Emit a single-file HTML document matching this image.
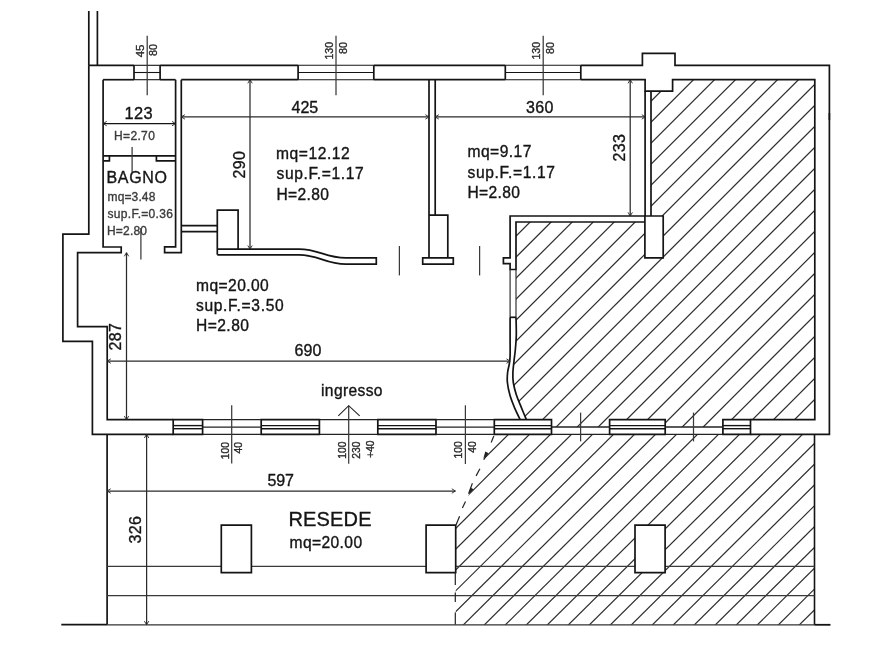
<!DOCTYPE html>
<html><head><meta charset="utf-8"><title>Planimetria</title>
<style>
html,body{margin:0;padding:0;background:#fff;}
body{width:893px;height:670px;overflow:hidden;}
svg{display:block;font-family:"Liberation Sans",sans-serif;filter:blur(0.35px);}
text{stroke-width:0.35px;paint-order:stroke;}
</style></head><body>
<svg width="893" height="670" viewBox="0 0 893 670">
<rect width="893" height="670" fill="#fff"/>
<defs>
<clipPath id="cu"><path d="M651.1,91.1 L672.6,91.1 L672.6,79.7 L814.8,79.7 L814.8,419.7 L722.9,419.7 L722.9,427 L665.2,427 L665.2,419.7 L609.6,419.7 L609.6,427 L551.5,427 L551.5,419.7 L526.40,419.70 C525.57,417.68 523.07,411.70 521.40,407.60 C519.73,403.50 517.75,399.28 516.40,395.10 C515.05,390.92 513.88,386.23 513.30,382.50 C512.72,378.77 512.77,376.42 512.90,372.70 C513.03,368.98 513.70,363.98 514.10,360.20 C514.50,356.42 514.93,354.20 515.30,350.00 C515.67,345.80 516.18,340.45 516.30,335.00 C516.42,329.55 516.05,320.25 516.00,317.30  L516,222 L644.9,222 L644.9,257.9 L663.2,257.9 L663.2,216 L651.1,216 Z"/></clipPath>
<clipPath id="cl"><path d="M493.8,434.4 L814.5,434.4 L814.5,624.8 L455.7,624.8 L455.7,525.3 C 466,500 484,462 493.8,434.4 Z M635,525.1 L635,572.7 L665.1,572.7 L665.1,525.1 Z" clip-rule="evenodd"/></clipPath>
</defs>
<g clip-path="url(#cu)" stroke="#2c2c2c" stroke-width="1.2">
<line x1="647.20" y1="0" x2="-52.80" y2="700"/>
<line x1="668.20" y1="0" x2="-31.80" y2="700"/>
<line x1="689.20" y1="0" x2="-10.80" y2="700"/>
<line x1="710.20" y1="0" x2="10.20" y2="700"/>
<line x1="731.20" y1="0" x2="31.20" y2="700"/>
<line x1="752.20" y1="0" x2="52.20" y2="700"/>
<line x1="773.20" y1="0" x2="73.20" y2="700"/>
<line x1="794.20" y1="0" x2="94.20" y2="700"/>
<line x1="815.20" y1="0" x2="115.20" y2="700"/>
<line x1="836.20" y1="0" x2="136.20" y2="700"/>
<line x1="857.20" y1="0" x2="157.20" y2="700"/>
<line x1="878.20" y1="0" x2="178.20" y2="700"/>
<line x1="899.20" y1="0" x2="199.20" y2="700"/>
<line x1="920.20" y1="0" x2="220.20" y2="700"/>
<line x1="941.20" y1="0" x2="241.20" y2="700"/>
<line x1="962.20" y1="0" x2="262.20" y2="700"/>
<line x1="983.20" y1="0" x2="283.20" y2="700"/>
<line x1="1004.20" y1="0" x2="304.20" y2="700"/>
<line x1="1025.20" y1="0" x2="325.20" y2="700"/>
<line x1="1046.20" y1="0" x2="346.20" y2="700"/>
<line x1="1067.20" y1="0" x2="367.20" y2="700"/>
<line x1="1088.20" y1="0" x2="388.20" y2="700"/>
<line x1="1109.20" y1="0" x2="409.20" y2="700"/>
<line x1="1130.20" y1="0" x2="430.20" y2="700"/>
<line x1="1151.20" y1="0" x2="451.20" y2="700"/>
<line x1="1172.20" y1="0" x2="472.20" y2="700"/>
<line x1="1193.20" y1="0" x2="493.20" y2="700"/>
<line x1="1214.20" y1="0" x2="514.20" y2="700"/>
<line x1="1235.20" y1="0" x2="535.20" y2="700"/>
<line x1="1256.20" y1="0" x2="556.20" y2="700"/>
<line x1="1277.20" y1="0" x2="577.20" y2="700"/>
<line x1="1298.20" y1="0" x2="598.20" y2="700"/>
<line x1="1319.20" y1="0" x2="619.20" y2="700"/>
<line x1="1340.20" y1="0" x2="640.20" y2="700"/>
<line x1="1361.20" y1="0" x2="661.20" y2="700"/>
<line x1="1382.20" y1="0" x2="682.20" y2="700"/>
<line x1="1403.20" y1="0" x2="703.20" y2="700"/>
<line x1="1424.20" y1="0" x2="724.20" y2="700"/>
<line x1="1445.20" y1="0" x2="745.20" y2="700"/>
<line x1="1466.20" y1="0" x2="766.20" y2="700"/>
<line x1="1487.20" y1="0" x2="787.20" y2="700"/>
<line x1="1508.20" y1="0" x2="808.20" y2="700"/>
</g>
<g clip-path="url(#cl)" stroke="#2c2c2c" stroke-width="1.2">
<line x1="652.59" y1="0" x2="-53.43" y2="700"/>
<line x1="673.59" y1="0" x2="-32.43" y2="700"/>
<line x1="694.59" y1="0" x2="-11.43" y2="700"/>
<line x1="715.59" y1="0" x2="9.57" y2="700"/>
<line x1="736.59" y1="0" x2="30.57" y2="700"/>
<line x1="757.59" y1="0" x2="51.57" y2="700"/>
<line x1="778.59" y1="0" x2="72.57" y2="700"/>
<line x1="799.59" y1="0" x2="93.57" y2="700"/>
<line x1="820.59" y1="0" x2="114.57" y2="700"/>
<line x1="841.59" y1="0" x2="135.57" y2="700"/>
<line x1="862.59" y1="0" x2="156.57" y2="700"/>
<line x1="883.59" y1="0" x2="177.57" y2="700"/>
<line x1="904.59" y1="0" x2="198.57" y2="700"/>
<line x1="925.59" y1="0" x2="219.57" y2="700"/>
<line x1="946.59" y1="0" x2="240.57" y2="700"/>
<line x1="967.59" y1="0" x2="261.57" y2="700"/>
<line x1="988.59" y1="0" x2="282.57" y2="700"/>
<line x1="1009.59" y1="0" x2="303.57" y2="700"/>
<line x1="1030.59" y1="0" x2="324.57" y2="700"/>
<line x1="1051.59" y1="0" x2="345.57" y2="700"/>
<line x1="1072.59" y1="0" x2="366.57" y2="700"/>
<line x1="1093.59" y1="0" x2="387.57" y2="700"/>
<line x1="1114.59" y1="0" x2="408.57" y2="700"/>
<line x1="1135.59" y1="0" x2="429.57" y2="700"/>
<line x1="1156.59" y1="0" x2="450.57" y2="700"/>
<line x1="1177.59" y1="0" x2="471.57" y2="700"/>
<line x1="1198.59" y1="0" x2="492.57" y2="700"/>
<line x1="1219.59" y1="0" x2="513.57" y2="700"/>
<line x1="1240.59" y1="0" x2="534.57" y2="700"/>
<line x1="1261.59" y1="0" x2="555.57" y2="700"/>
<line x1="1282.59" y1="0" x2="576.57" y2="700"/>
<line x1="1303.59" y1="0" x2="597.57" y2="700"/>
<line x1="1324.59" y1="0" x2="618.57" y2="700"/>
<line x1="1345.59" y1="0" x2="639.57" y2="700"/>
<line x1="1366.59" y1="0" x2="660.57" y2="700"/>
<line x1="1387.59" y1="0" x2="681.57" y2="700"/>
<line x1="1408.59" y1="0" x2="702.57" y2="700"/>
<line x1="1429.59" y1="0" x2="723.57" y2="700"/>
<line x1="1450.59" y1="0" x2="744.57" y2="700"/>
<line x1="1471.59" y1="0" x2="765.57" y2="700"/>
<line x1="1492.59" y1="0" x2="786.57" y2="700"/>
<line x1="1513.59" y1="0" x2="807.57" y2="700"/>
</g>
<line x1="88.8" y1="11" x2="88.8" y2="65.3" stroke="#141414" stroke-width="1.7" />
<line x1="97.4" y1="11" x2="97.4" y2="65.3" stroke="#141414" stroke-width="1.7" />
<polyline points="88.8,65.3 88.8,234.1 62.9,234.1 62.9,341.3 92.4,341.3 92.4,434.4 173.2,434.4" fill="none" stroke="#141414" stroke-width="1.7" stroke-linejoin="miter" />
<polyline points="88.8,65.3 134,65.3" fill="none" stroke="#141414" stroke-width="1.7" stroke-linejoin="miter" />
<polyline points="160.1,65.3 298.1,65.3" fill="none" stroke="#141414" stroke-width="1.7" stroke-linejoin="miter" />
<polyline points="373.8,65.3 505.3,65.3" fill="none" stroke="#141414" stroke-width="1.7" stroke-linejoin="miter" />
<polyline points="580.8,65.3 642.4,65.3 642.4,53.3 675,53.3 675,65.3 829.4,65.3 829.4,434.4 750.5,434.4" fill="none" stroke="#141414" stroke-width="1.7" stroke-linejoin="miter" />
<polyline points="103.1,79.7 134,79.7" fill="none" stroke="#141414" stroke-width="1.7" stroke-linejoin="miter" />
<polyline points="160.1,79.7 175.6,79.7" fill="none" stroke="#141414" stroke-width="1.7" stroke-linejoin="miter" />
<polyline points="181.3,79.7 298.1,79.7" fill="none" stroke="#141414" stroke-width="1.7" stroke-linejoin="miter" />
<polyline points="373.8,79.7 505.3,79.7" fill="none" stroke="#141414" stroke-width="1.7" stroke-linejoin="miter" />
<polyline points="580.8,79.7 645.1,79.7 645.1,91.1 672.6,91.1 672.6,79.7 814.8,79.7 814.8,419.7 750.5,419.7" fill="none" stroke="#141414" stroke-width="1.7" stroke-linejoin="miter" />
<line x1="134" y1="65.3" x2="134" y2="79.7" stroke="#141414" stroke-width="1.7" />
<line x1="160.1" y1="65.3" x2="160.1" y2="79.7" stroke="#141414" stroke-width="1.7" />
<line x1="134" y1="65.3" x2="160.1" y2="65.3" stroke="#141414" stroke-width="1.1" />
<line x1="134" y1="79.7" x2="160.1" y2="79.7" stroke="#141414" stroke-width="1.1" />
<line x1="134" y1="72.5" x2="160.1" y2="72.5" stroke="#141414" stroke-width="1.1" />
<line x1="298.1" y1="65.3" x2="298.1" y2="79.7" stroke="#141414" stroke-width="1.7" />
<line x1="373.8" y1="65.3" x2="373.8" y2="79.7" stroke="#141414" stroke-width="1.7" />
<line x1="298.1" y1="65.3" x2="373.8" y2="65.3" stroke="#141414" stroke-width="1.1" />
<line x1="298.1" y1="79.7" x2="373.8" y2="79.7" stroke="#141414" stroke-width="1.1" />
<line x1="298.1" y1="72.5" x2="373.8" y2="72.5" stroke="#141414" stroke-width="1.1" />
<line x1="505.3" y1="65.3" x2="505.3" y2="79.7" stroke="#141414" stroke-width="1.7" />
<line x1="580.8" y1="65.3" x2="580.8" y2="79.7" stroke="#141414" stroke-width="1.7" />
<line x1="505.3" y1="65.3" x2="580.8" y2="65.3" stroke="#141414" stroke-width="1.1" />
<line x1="505.3" y1="79.7" x2="580.8" y2="79.7" stroke="#141414" stroke-width="1.1" />
<line x1="505.3" y1="72.5" x2="580.8" y2="72.5" stroke="#141414" stroke-width="1.1" />
<polyline points="103.1,79.7 103.1,247 121.2,247 121.2,252.7 77.6,252.7 77.6,326.6 107.2,326.6 107.2,419.7 173.2,419.7" fill="none" stroke="#141414" stroke-width="1.7" stroke-linejoin="miter" />
<polyline points="175.6,79.7 175.6,246.8 164.6,246.8 164.6,252.7 181.3,252.7 181.3,79.7" fill="none" stroke="#141414" stroke-width="1.7" stroke-linejoin="miter" />
<line x1="103.1" y1="155.8" x2="175.6" y2="155.8" stroke="#141414" stroke-width="1.7" />
<polyline points="103.1,160.9 109.4,160.9 109.4,155.8" fill="none" stroke="#141414" stroke-width="1.7" stroke-linejoin="miter" />
<polyline points="175.6,160.9 156.4,160.9 156.4,155.8" fill="none" stroke="#141414" stroke-width="1.7" stroke-linejoin="miter" />
<line x1="132.1" y1="147" x2="132.1" y2="172.6" stroke="#3a3a3a" stroke-width="1.25" />
<line x1="140.9" y1="228" x2="140.9" y2="259.6" stroke="#3a3a3a" stroke-width="1.25" />
<line x1="181.3" y1="225.6" x2="217.3" y2="225.6" stroke="#141414" stroke-width="1.7" />
<line x1="181.3" y1="231.7" x2="217.3" y2="231.7" stroke="#141414" stroke-width="1.7" />
<polyline points="217.3,254.8 217.3,210.2 238.1,210.2 238.1,249.1" fill="none" stroke="#141414" stroke-width="1.7" stroke-linejoin="miter" />
<path d="M217.3,249.1 L299,249.1 C 319,249.1 325,257.9 346,257.9 L376.3,257.9 L376.3,264.1 L346,264.1 C 325,264.1 319,254.8 299,254.8 L217.3,254.8" fill="none" stroke="#141414" stroke-width="1.7" />
<line x1="399.4" y1="246" x2="399.4" y2="275.4" stroke="#3a3a3a" stroke-width="1.25" />
<line x1="479.6" y1="246" x2="479.6" y2="275.4" stroke="#3a3a3a" stroke-width="1.25" />
<line x1="429" y1="79.7" x2="429" y2="257.9" stroke="#141414" stroke-width="1.7" />
<line x1="435.2" y1="79.7" x2="435.2" y2="215.2" stroke="#141414" stroke-width="1.7" />
<polyline points="429,215.2 447.8,215.2 447.8,257.9" fill="none" stroke="#141414" stroke-width="1.7" stroke-linejoin="miter" />
<polygon points="422.7,257.9 453.3,257.9 453.3,264.1 422.7,264.1" fill="none" stroke="#141414" stroke-width="1.7" stroke-linejoin="miter" />
<line x1="645.1" y1="91.1" x2="645.1" y2="216" stroke="#141414" stroke-width="1.7" />
<line x1="651.0" y1="91.1" x2="651.0" y2="216" stroke="#141414" stroke-width="1.7" />
<polyline points="644.9,216 510.1,216 510.1,257.9 503.4,257.9 503.4,263.6 510.1,263.6 510.1,269.5 516,269.5 516,222 644.9,222" fill="none" stroke="#141414" stroke-width="1.7" stroke-linejoin="miter" />
<polygon points="644.9,216 663.2,216 663.2,257.9 644.9,257.9" fill="#fff" stroke="#141414" stroke-width="1.7" stroke-linejoin="miter" />
<line x1="510.1" y1="269.5" x2="510.1" y2="317.3" stroke="#333" stroke-width="1.2" />
<line x1="516" y1="269.5" x2="516" y2="317.3" stroke="#333" stroke-width="1.2" />
<line x1="510.1" y1="317.3" x2="516" y2="317.3" stroke="#141414" stroke-width="1.7" />
<path d="M510.10,317.30 C510.10,321.08 510.10,333.55 510.10,340.00 C510.10,346.45 510.23,352.00 510.10,356.00 C509.97,360.00 509.72,361.25 509.30,364.00 C508.88,366.75 507.92,369.42 507.60,372.50 C507.28,375.58 507.02,378.73 507.40,382.50 C507.78,386.27 508.72,390.92 509.90,395.10 C511.08,399.28 512.78,403.50 514.50,407.60 C516.22,411.70 519.25,417.68 520.20,419.70 " fill="none" stroke="#141414" stroke-width="1.7" />
<path d="M516.00,317.30 C516.05,320.25 516.42,329.55 516.30,335.00 C516.18,340.45 515.67,345.80 515.30,350.00 C514.93,354.20 514.50,356.42 514.10,360.20 C513.70,363.98 513.03,368.98 512.90,372.70 C512.77,376.42 512.72,378.77 513.30,382.50 C513.88,386.23 515.05,390.92 516.40,395.10 C517.75,399.28 519.73,403.50 521.40,407.60 C523.07,411.70 525.57,417.68 526.40,419.70 " fill="none" stroke="#141414" stroke-width="1.7" />
<polygon points="173.2,419.7 202.6,419.7 202.6,434.4 173.2,434.4" fill="#fff" stroke="#141414" stroke-width="1.7" stroke-linejoin="miter" />
<line x1="173.2" y1="425.6" x2="202.6" y2="425.6" stroke="#141414" stroke-width="1.4" />
<line x1="173.2" y1="428.7" x2="202.6" y2="428.7" stroke="#141414" stroke-width="1.4" />
<polygon points="261.2,419.7 319.4,419.7 319.4,434.4 261.2,434.4" fill="#fff" stroke="#141414" stroke-width="1.7" stroke-linejoin="miter" />
<line x1="261.2" y1="425.6" x2="319.4" y2="425.6" stroke="#141414" stroke-width="1.4" />
<line x1="261.2" y1="428.7" x2="319.4" y2="428.7" stroke="#141414" stroke-width="1.4" />
<polygon points="377.8,419.7 436,419.7 436,434.4 377.8,434.4" fill="#fff" stroke="#141414" stroke-width="1.7" stroke-linejoin="miter" />
<line x1="377.8" y1="425.6" x2="436" y2="425.6" stroke="#141414" stroke-width="1.4" />
<line x1="377.8" y1="428.7" x2="436" y2="428.7" stroke="#141414" stroke-width="1.4" />
<polygon points="494.3,419.7 551.5,419.7 551.5,434.4 494.3,434.4" fill="#fff" stroke="#141414" stroke-width="1.7" stroke-linejoin="miter" />
<line x1="494.3" y1="425.6" x2="551.5" y2="425.6" stroke="#141414" stroke-width="1.4" />
<line x1="494.3" y1="428.7" x2="551.5" y2="428.7" stroke="#141414" stroke-width="1.4" />
<polygon points="609.6,419.7 665.2,419.7 665.2,434.4 609.6,434.4" fill="#fff" stroke="#141414" stroke-width="1.7" stroke-linejoin="miter" />
<line x1="609.6" y1="425.6" x2="665.2" y2="425.6" stroke="#141414" stroke-width="1.4" />
<line x1="609.6" y1="428.7" x2="665.2" y2="428.7" stroke="#141414" stroke-width="1.4" />
<polygon points="722.9,419.7 750.5,419.7 750.5,434.4 722.9,434.4" fill="#fff" stroke="#141414" stroke-width="1.7" stroke-linejoin="miter" />
<line x1="722.9" y1="425.6" x2="750.5" y2="425.6" stroke="#141414" stroke-width="1.4" />
<line x1="722.9" y1="428.7" x2="750.5" y2="428.7" stroke="#141414" stroke-width="1.4" />
<line x1="202.6" y1="419.7" x2="261.2" y2="419.7" stroke="#222" stroke-width="1.3" />
<line x1="202.6" y1="434.4" x2="261.2" y2="434.4" stroke="#222" stroke-width="1.2" />
<line x1="202.6" y1="427.1" x2="261.2" y2="427.1" stroke="#222" stroke-width="1.1" />
<line x1="319.4" y1="419.7" x2="377.8" y2="419.7" stroke="#222" stroke-width="1.3" />
<line x1="319.4" y1="434.4" x2="377.8" y2="434.4" stroke="#222" stroke-width="1.2" />
<line x1="436" y1="419.7" x2="494.3" y2="419.7" stroke="#222" stroke-width="1.3" />
<line x1="436" y1="434.4" x2="494.3" y2="434.4" stroke="#222" stroke-width="1.2" />
<line x1="436" y1="427.1" x2="494.3" y2="427.1" stroke="#222" stroke-width="1.1" />
<line x1="551.5" y1="434.4" x2="609.6" y2="434.4" stroke="#222" stroke-width="1.2" />
<line x1="551.5" y1="427.1" x2="609.6" y2="427.1" stroke="#222" stroke-width="1.5" />
<line x1="665.2" y1="434.4" x2="722.9" y2="434.4" stroke="#222" stroke-width="1.2" />
<line x1="665.2" y1="427.1" x2="722.9" y2="427.1" stroke="#222" stroke-width="1.5" />
<line x1="107.1" y1="434.4" x2="107.1" y2="624.7" stroke="#141414" stroke-width="1.7" />
<line x1="61.3" y1="624.7" x2="107.1" y2="624.7" stroke="#141414" stroke-width="1.7" />
<line x1="107.1" y1="624.8" x2="814.5" y2="624.8" stroke="#333" stroke-width="1.2" />
<line x1="814.5" y1="624.8" x2="830.5" y2="624.8" stroke="#141414" stroke-width="1.8" />
<line x1="814.5" y1="434.4" x2="814.5" y2="624.8" stroke="#141414" stroke-width="1.6" />
<line x1="107.1" y1="566.3" x2="814.5" y2="566.3" stroke="#3a3a3a" stroke-width="1.25" />
<line x1="107.1" y1="595.6" x2="814.5" y2="595.6" stroke="#3a3a3a" stroke-width="1.25" />
<polygon points="221.3,525.2 251.4,525.2 251.4,572.7 221.3,572.7" fill="#fff" stroke="#141414" stroke-width="1.7" stroke-linejoin="miter" />
<polygon points="426.1,525.2 455.7,525.2 455.7,572.7 426.1,572.7" fill="#fff" stroke="#141414" stroke-width="1.7" stroke-linejoin="miter" />
<polygon points="635,525.2 665.1,525.2 665.1,572.7 635,572.7" fill="#fff" stroke="#141414" stroke-width="1.7" stroke-linejoin="miter" />
<line x1="493.8" y1="436.0" x2="491.2" y2="442.5" stroke="#222" stroke-width="1.2" />
<line x1="487.4" y1="453.6" x2="483.7" y2="459.6" stroke="#222" stroke-width="1.2" />
<line x1="479.9" y1="468.8" x2="476.1" y2="475.9" stroke="#222" stroke-width="1.2" />
<line x1="472.4" y1="483.2" x2="468.6" y2="493.6" stroke="#222" stroke-width="1.2" />
<line x1="465.5" y1="501.4" x2="462.4" y2="507.9" stroke="#222" stroke-width="1.2" />
<line x1="459.6" y1="516.3" x2="456.0" y2="525.0" stroke="#222" stroke-width="1.2" />
<line x1="455.3" y1="572.6" x2="455.3" y2="585" stroke="#222" stroke-width="1.2" />
<line x1="455.3" y1="592.6" x2="455.3" y2="602" stroke="#222" stroke-width="1.2" />
<line x1="455.3" y1="612.6" x2="455.3" y2="624.6" stroke="#222" stroke-width="1.2" />
<path d="M483.4,458.2 L488.6,453.2 L485.3,451.6 Z" fill="#222"/>
<path d="M468.6,494.2 L473.6,489.2 L470.4,487.6 Z" fill="#222"/>
<line x1="103.1" y1="123.6" x2="175.6" y2="123.6" stroke="#141414" stroke-width="1.4" />
<path d="M106.7,121.4 L103.1,123.6 L106.7,125.8" fill="none" stroke="#222" stroke-width="0.9" />
<path d="M172.0,125.8 L175.6,123.6 L172.0,121.4" fill="none" stroke="#222" stroke-width="0.9" />
<line x1="181.3" y1="116.9" x2="429" y2="116.9" stroke="#2a2a2a" stroke-width="1.25" />
<path d="M184.9,114.7 L181.3,116.9 L184.9,119.1" fill="none" stroke="#222" stroke-width="0.9" />
<path d="M425.4,119.1 L429,116.9 L425.4,114.7" fill="none" stroke="#222" stroke-width="0.9" />
<line x1="435.2" y1="116.9" x2="645.4" y2="116.9" stroke="#2a2a2a" stroke-width="1.25" />
<path d="M438.8,114.7 L435.2,116.9 L438.8,119.1" fill="none" stroke="#222" stroke-width="0.9" />
<path d="M641.8,119.1 L645.4,116.9 L641.8,114.7" fill="none" stroke="#222" stroke-width="0.9" />
<line x1="250" y1="79.7" x2="250" y2="249.1" stroke="#2a2a2a" stroke-width="1.25" />
<path d="M252.2,83.3 L250,79.7 L247.8,83.3" fill="none" stroke="#222" stroke-width="0.9" />
<path d="M247.8,245.5 L250,249.1 L252.2,245.5" fill="none" stroke="#222" stroke-width="0.9" />
<line x1="630.2" y1="79.7" x2="630.2" y2="216" stroke="#2a2a2a" stroke-width="1.25" />
<path d="M632.4,83.3 L630.2,79.7 L628.0,83.3" fill="none" stroke="#222" stroke-width="0.9" />
<path d="M628.0,212.4 L630.2,216 L632.4,212.4" fill="none" stroke="#222" stroke-width="0.9" />
<line x1="126.5" y1="252.7" x2="126.5" y2="419.7" stroke="#2a2a2a" stroke-width="1.25" />
<path d="M128.7,256.3 L126.5,252.7 L124.3,256.3" fill="none" stroke="#222" stroke-width="0.9" />
<path d="M124.3,416.1 L126.5,419.7 L128.7,416.1" fill="none" stroke="#222" stroke-width="0.9" />
<line x1="107.2" y1="361.1" x2="510.1" y2="361.1" stroke="#2a2a2a" stroke-width="1.25" />
<path d="M110.8,358.9 L107.2,361.1 L110.8,363.3" fill="none" stroke="#222" stroke-width="0.9" />
<path d="M506.5,363.3 L510.1,361.1 L506.5,358.9" fill="none" stroke="#222" stroke-width="0.9" />
<line x1="107.1" y1="491" x2="455.4" y2="491" stroke="#2a2a2a" stroke-width="1.25" />
<path d="M110.7,488.8 L107.1,491 L110.7,493.2" fill="none" stroke="#222" stroke-width="0.9" />
<path d="M451.8,493.2 L455.4,491 L451.8,488.8" fill="none" stroke="#222" stroke-width="0.9" />
<line x1="146.6" y1="434.4" x2="146.6" y2="624.7" stroke="#2a2a2a" stroke-width="1.25" />
<path d="M148.8,438.0 L146.6,434.4 L144.4,438.0" fill="none" stroke="#222" stroke-width="0.9" />
<path d="M144.4,621.1 L146.6,624.7 L148.8,621.1" fill="none" stroke="#222" stroke-width="0.9" />
<line x1="829.4" y1="113" x2="829.4" y2="120" stroke="#141414" stroke-width="1.6" />
<line x1="147.2" y1="35.8" x2="147.2" y2="95.2" stroke="#3a3a3a" stroke-width="1.25" />
<line x1="336" y1="35.8" x2="336" y2="95.2" stroke="#3a3a3a" stroke-width="1.25" />
<line x1="543.2" y1="35.8" x2="543.2" y2="95.2" stroke="#3a3a3a" stroke-width="1.25" />
<line x1="231.7" y1="405.3" x2="231.7" y2="463.5" stroke="#3a3a3a" stroke-width="1.25" />
<line x1="348.7" y1="405.7" x2="348.7" y2="463.8" stroke="#3a3a3a" stroke-width="1.25" />
<line x1="465.4" y1="405.3" x2="465.4" y2="464" stroke="#3a3a3a" stroke-width="1.25" />
<line x1="580.6" y1="412.6" x2="580.6" y2="441.4" stroke="#3a3a3a" stroke-width="1.25" />
<line x1="693.5" y1="412.6" x2="693.5" y2="441.4" stroke="#3a3a3a" stroke-width="1.25" />
<path d="M338.3,415.8 L348.7,405.7 L359.7,415.8" fill="none" stroke="#222" stroke-width="1.1" />
<text transform="translate(139.6 44.5) rotate(-90)" font-size="11.5" fill="#2a2a2a" stroke="#2a2a2a" text-anchor="end" dy="0.36em">45</text>
<text transform="translate(153.3 43.9) rotate(-90)" font-size="10.8" fill="#2a2a2a" stroke="#2a2a2a" text-anchor="end" dy="0.36em">80</text>
<text transform="translate(328.8 41.9) rotate(-90)" font-size="10.6" fill="#2a2a2a" stroke="#2a2a2a" text-anchor="end" dy="0.36em">130</text>
<text transform="translate(343.1 41.9) rotate(-90)" font-size="10.8" fill="#2a2a2a" stroke="#2a2a2a" text-anchor="end" dy="0.36em">80</text>
<text transform="translate(535.8 41.9) rotate(-90)" font-size="10.6" fill="#2a2a2a" stroke="#2a2a2a" text-anchor="end" dy="0.36em">130</text>
<text transform="translate(550.2 41.9) rotate(-90)" font-size="10.8" fill="#2a2a2a" stroke="#2a2a2a" text-anchor="end" dy="0.36em">80</text>
<text x="276.0" y="159.0" font-size="15.6" fill="#141414" stroke="#141414" text-anchor="start" letter-spacing="0.571">mq=12.12</text>
<text x="276.5" y="179.3" font-size="15.6" fill="#141414" stroke="#141414" text-anchor="start" letter-spacing="0.620">sup.F.=1.17</text>
<text x="276.5" y="200.0" font-size="15.6" fill="#141414" stroke="#141414" text-anchor="start" letter-spacing="0.360">H=2.80</text>
<text x="467.5" y="157.3" font-size="15.6" fill="#141414" stroke="#141414" text-anchor="start" letter-spacing="0.467">mq=9.17</text>
<text x="467.5" y="177.6" font-size="15.6" fill="#141414" stroke="#141414" text-anchor="start" letter-spacing="0.640">sup.F.=1.17</text>
<text x="467.5" y="197.5" font-size="15.6" fill="#141414" stroke="#141414" text-anchor="start" letter-spacing="0.320">H=2.80</text>
<text x="196.0" y="290.6" font-size="15.6" fill="#141414" stroke="#141414" text-anchor="start" letter-spacing="0.429">mq=20.00</text>
<text x="196.0" y="311.4" font-size="15.6" fill="#141414" stroke="#141414" text-anchor="start" letter-spacing="0.660">sup.F.=3.50</text>
<text x="196.0" y="330.5" font-size="15.6" fill="#141414" stroke="#141414" text-anchor="start" letter-spacing="0.440">H=2.80</text>
<text x="106.5" y="183.1" font-size="16" fill="#141414" stroke="#141414" text-anchor="start" letter-spacing="0.650">BAGNO</text>
<text x="107.5" y="201.1" font-size="12" fill="#3a3a3a" stroke="#3a3a3a" text-anchor="start" letter-spacing="0.133">mq=3.48</text>
<text x="107.5" y="217.8" font-size="12" fill="#3a3a3a" stroke="#3a3a3a" text-anchor="start" letter-spacing="0.300">sup.F.=0.36</text>
<text x="107.0" y="234.7" font-size="12" fill="#3a3a3a" stroke="#3a3a3a" text-anchor="start" letter-spacing="0.200">H=2.80</text>
<text x="114.0" y="139.5" font-size="12" fill="#3a3a3a" stroke="#3a3a3a" text-anchor="start" letter-spacing="0.360">H=2.70</text>
<text x="321.0" y="396.0" font-size="15.6" fill="#141414" stroke="#141414" text-anchor="start" letter-spacing="0.371">ingresso</text>
<text x="288.5" y="526.1" font-size="20" fill="#141414" stroke="#141414" text-anchor="start" letter-spacing="0.160">RESEDE</text>
<text x="289.5" y="548.3" font-size="15.6" fill="#141414" stroke="#141414" text-anchor="start" letter-spacing="0.400">mq=20.00</text>
<text x="124.5" y="118.6" font-size="16.4" fill="#141414" stroke="#141414" text-anchor="start" letter-spacing="0.400">123</text>
<text x="291.5" y="113.2" font-size="16" fill="#141414" stroke="#141414" text-anchor="start" letter-spacing="0.000">425</text>
<text x="526.0" y="113.2" font-size="16" fill="#141414" stroke="#141414" text-anchor="start" letter-spacing="0.300">360</text>
<text x="294.5" y="356.3" font-size="16" fill="#141414" stroke="#141414" text-anchor="start" letter-spacing="0.100">690</text>
<text x="267.5" y="485.7" font-size="16" fill="#141414" stroke="#141414" text-anchor="start" letter-spacing="-0.200">597</text>
<text transform="translate(238.9 165.1) rotate(-90)" font-size="16" fill="#141414" stroke="#141414" text-anchor="middle" letter-spacing="0.3" dy="0.36em" dx="0.4">290</text>
<text transform="translate(618.9 148) rotate(-90)" font-size="16" fill="#141414" stroke="#141414" text-anchor="middle" letter-spacing="0.3" dy="0.36em" dx="0.4">233</text>
<text transform="translate(115.3 337) rotate(-90)" font-size="16" fill="#141414" stroke="#141414" text-anchor="middle" letter-spacing="0.3" dy="0.36em" dx="0.4">287</text>
<text transform="translate(135.7 530) rotate(-90)" font-size="16" fill="#141414" stroke="#141414" text-anchor="middle" letter-spacing="0.3" dy="0.36em" dx="0.4">326</text>
<text transform="translate(224.8 442) rotate(-90)" font-size="10.3" fill="#2a2a2a" stroke="#2a2a2a" text-anchor="end" dy="0.36em">100</text>
<text transform="translate(238.6 442) rotate(-90)" font-size="10.3" fill="#2a2a2a" stroke="#2a2a2a" text-anchor="end" dy="0.36em">40</text>
<text transform="translate(341.8 441.5) rotate(-90)" font-size="10.3" fill="#2a2a2a" stroke="#2a2a2a" text-anchor="end" dy="0.36em">100</text>
<text transform="translate(356.1 441.5) rotate(-90)" font-size="10.3" fill="#2a2a2a" stroke="#2a2a2a" text-anchor="end" dy="0.36em">230</text>
<text transform="translate(370.6 440.4) rotate(-90)" font-size="10.3" fill="#2a2a2a" stroke="#2a2a2a" text-anchor="end" dy="0.36em">+40</text>
<text transform="translate(457.9 441.3) rotate(-90)" font-size="10.3" fill="#2a2a2a" stroke="#2a2a2a" text-anchor="end" dy="0.36em">100</text>
<text transform="translate(472 441.3) rotate(-90)" font-size="10.3" fill="#2a2a2a" stroke="#2a2a2a" text-anchor="end" dy="0.36em">40</text>
</svg>
</body></html>
